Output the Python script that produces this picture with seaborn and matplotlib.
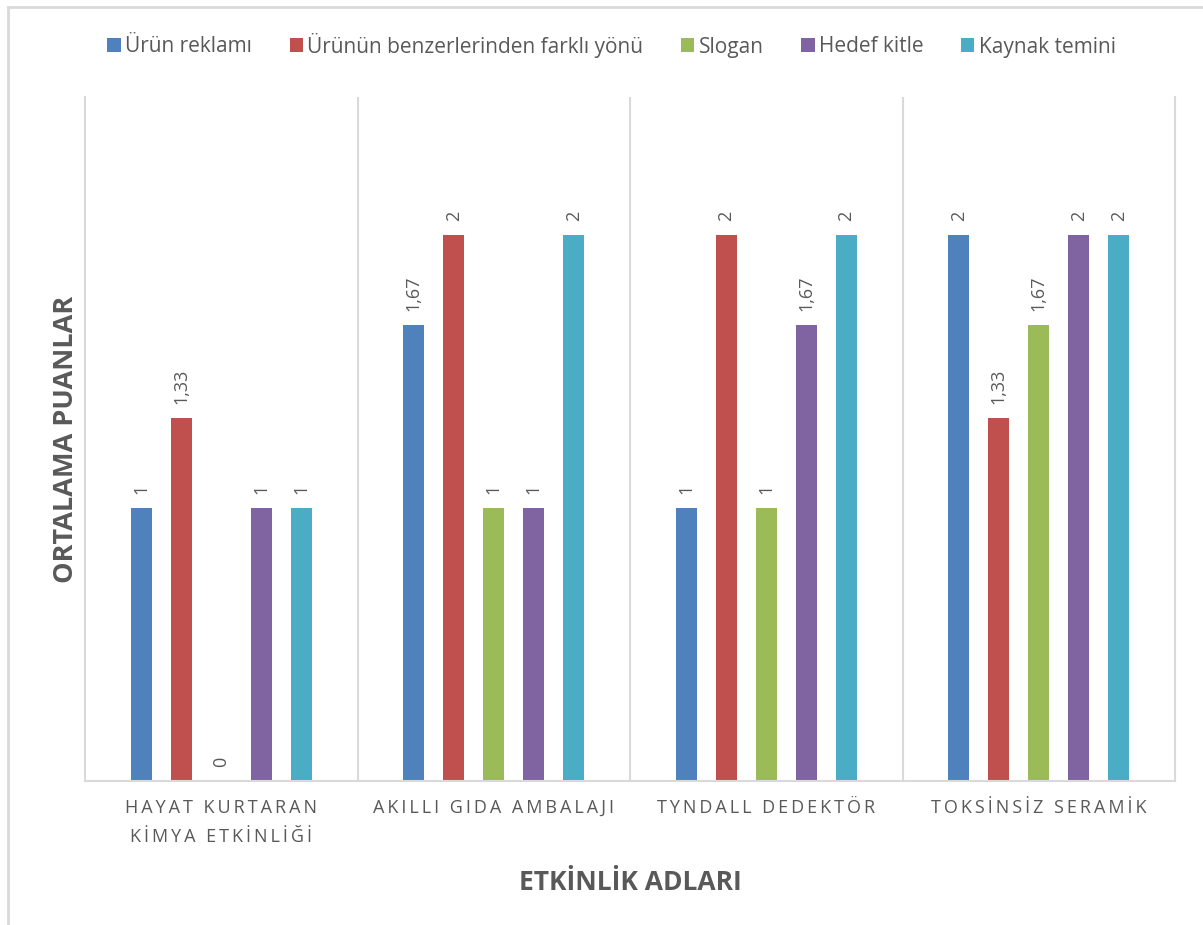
import matplotlib
matplotlib.use("Agg")
import matplotlib.pyplot as plt
import seaborn as sns
import pandas as pd
from matplotlib.patches import Rectangle

categories = ["HAYAT KURTARAN\nKİMYA ETKİNLİĞİ", "AKILLI GIDA AMBALAJI",
              "TYNDALL DEDEKTÖR", "TOKSİNSİZ SERAMİK"]
series_names = ["Ürün reklamı", "Ürünün benzerlerinden farklı yönü", "Slogan",
                "Hedef kitle", "Kaynak temini"]
urun_reklami = [1, 1.67, 1, 2]
farkli_yonu = [1.33, 2, 2, 1.33]
slogan = [0, 1, 1, 1.67]
hedef_kitle = [1, 1, 1.67, 2]
kaynak_temini = [1, 2, 2, 2]
colors = ["#4F81BD", "#C0504D", "#9BBB59", "#8064A2", "#4BACC6"]

values = [urun_reklami, farkli_yonu, slogan, hedef_kitle, kaynak_temini]
rows = []
for name, vals in zip(series_names, values):
    for cat, v in zip(categories, vals):
        rows.append({"Etkinlik": cat, "Seri": name, "Puan": v})
df = pd.DataFrame(rows)

sns.set_theme(style="white")
plt.rcParams["font.family"] = ["Open Sans", "DejaVu Sans"]

W, H = 1203, 925
fig = plt.figure(figsize=(W / 100, H / 100), dpi=100)
ax = fig.add_axes([85 / W, 1 - 781 / H, (1175 - 85) / W, (781 - 97) / H])

sns.barplot(data=df, x="Etkinlik", y="Puan", hue="Seri", order=categories,
            hue_order=series_names, palette=colors, width=0.734, gap=0.475,
            saturation=1, edgecolor="none", legend=True, ax=ax, errorbar=None)

def fmt(v):
    return f"{v:g}".replace(".", ",")

for cont, vals in zip(ax.containers, values):
    ax.bar_label(cont, labels=[fmt(v) for v in vals], rotation=90, padding=10,
                 color="#595959", fontsize=13)

ax.set_ylim(0, 2.505)
ax.set_xlim(-0.5, 3.5)
ax.set_yticks([])

def spaced(s):
    # emulate the wide letter spacing of the category labels
    return "\n".join("\u2009".join(line) for line in s.split("\n"))

ax.set_xticks(range(len(categories)))
ax.set_xticklabels([spaced(c) for c in categories])
ax.tick_params(axis="x", length=0, pad=13, labelsize=13, labelcolor="#595959")
for lbl in ax.get_xticklabels():
    lbl.set_linespacing(1.75)

grid_c = "#D9D9D9"
for s in ["left", "right", "bottom"]:
    ax.spines[s].set_visible(True)
    ax.spines[s].set_color(grid_c)
    ax.spines[s].set_linewidth(1.5)
ax.spines["top"].set_visible(False)
for xb in [0.5, 1.5, 2.5]:
    ax.axvline(xb, color=grid_c, lw=1.5, zorder=0)

ax.set_xlabel("ETKİNLİK ADLARI", fontsize=19, fontweight="bold", color="#595959",
              labelpad=17)
ax.set_ylabel("ORTALAMA PUANLAR", fontsize=19.5, fontweight="bold", color="#595959",
              labelpad=4)

leg = ax.legend(loc="center", bbox_to_anchor=(0.5 + 10 / W, 1 - 45 / H),
                bbox_transform=fig.transFigure,
                ncol=5, frameon=False, handlelength=0.65, handleheight=0.65,
                handletextpad=0.2, columnspacing=1.8, fontsize=15)
for t in leg.get_texts():
    t.set_color("#595959")

fig.patches.append(Rectangle((8 / W, -0.1), 1.2, 1 - 7 / H + 0.1, transform=fig.transFigure,
                             fill=False, edgecolor=grid_c, lw=2))

fig.savefig("out.png", dpi=100)
